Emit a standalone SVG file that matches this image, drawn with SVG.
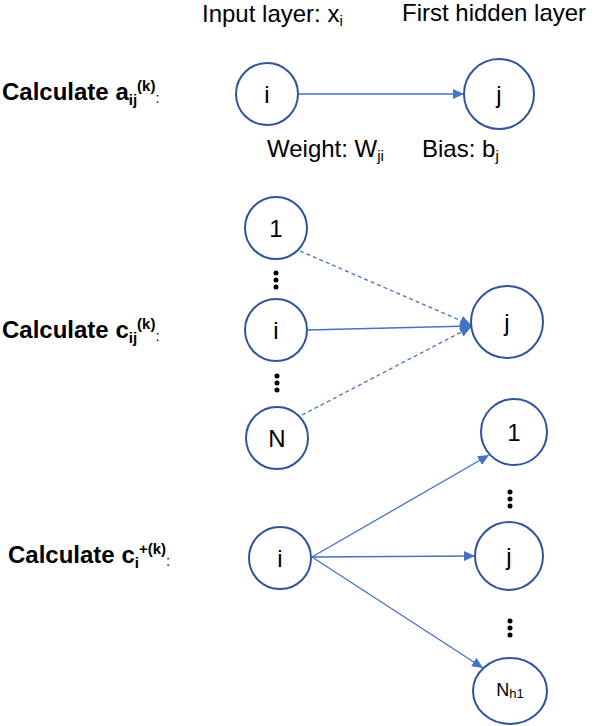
<svg xmlns="http://www.w3.org/2000/svg" width="595" height="726" viewBox="0 0 595 726">
<defs>
<marker id="ah" markerUnits="userSpaceOnUse" markerWidth="12" markerHeight="10" refX="11" refY="5" orient="auto">
<path d="M0,0 L11,5 L0,10 Z" fill="#4472C4"/>
</marker>
<style>
.t{font-family:"Liberation Sans",Arial,sans-serif;font-size:24px;fill:#000}
.b{font-family:"Liberation Sans",Arial,sans-serif;font-size:24px;font-weight:bold;fill:#000}
.s{font-size:15px}
.c{text-anchor:middle}
.n{fill:#fff;stroke:#2F5597;stroke-width:2}
.e{stroke:#4472C4;stroke-width:1.3;fill:none;marker-end:url(#ah)}
.d{stroke-dasharray:4,3}
.dot{fill:#000;stroke:none}
</style>
</defs>
<rect width="595" height="726" fill="#fff"/>
<g id="labels">
<text class="t" x="202" y="22">Input layer: x<tspan class="s" dy="4">i</tspan></text>
<text class="t" x="402" y="21">First hidden layer</text>
<text class="b" x="2" y="100">Calculate a<tspan class="s" dy="5">ij</tspan><tspan class="s" dy="-14">(k)</tspan><tspan class="s" dy="12" font-weight="normal">:</tspan></text>
<text class="t" x="267" y="157">Weight: W<tspan class="s" dy="4">ji</tspan></text>
<text class="t" x="422" y="157">Bias: b<tspan class="s" dy="4">j</tspan></text>
<text class="b" x="2" y="338">Calculate c<tspan class="s" dy="5">ij</tspan><tspan class="s" dy="-14">(k)</tspan><tspan class="s" dy="12" font-weight="normal">:</tspan></text>
<text class="b" x="8" y="563">Calculate c<tspan class="s" dy="5">i</tspan><tspan class="s" dy="-14">+(k)</tspan><tspan class="s" dy="12" font-weight="normal">:</tspan></text>
</g>
<g id="connectors">
<line class="e" x1="298" y1="94" x2="464" y2="94"/>
<line class="e" x1="307" y1="330" x2="471" y2="326"/>
<line class="e d" x1="300" y1="251" x2="471" y2="325"/>
<line class="e d" x1="302" y1="415" x2="471" y2="327"/>
<line class="e" x1="312" y1="557" x2="489" y2="455"/>
<line class="e" x1="312" y1="557" x2="475" y2="556"/>
<line class="e" x1="312" y1="557" x2="483" y2="668"/>
</g>
<g id="top-i"><circle class="n" cx="267" cy="94" r="31"/><text class="t c" x="267" y="103">i</text></g>
<g id="top-j"><circle class="n" cx="499" cy="94" r="35"/><text class="t c" x="499" y="103">j</text></g>
<g id="mid-1"><circle class="n" cx="276" cy="228" r="31"/><text class="t c" x="276" y="237">1</text></g>
<g id="mid-dots1"><circle class="dot" cx="276" cy="273" r="2.5"/><circle class="dot" cx="276" cy="280" r="2.5"/><circle class="dot" cx="276" cy="287" r="2.5"/></g>
<g id="mid-i"><circle class="n" cx="276" cy="330" r="31"/><text class="t c" x="276" y="339">i</text></g>
<g id="mid-dots2"><circle class="dot" cx="277" cy="376" r="2.5"/><circle class="dot" cx="277" cy="383" r="2.5"/><circle class="dot" cx="277" cy="390" r="2.5"/></g>
<g id="mid-N"><circle class="n" cx="277" cy="438" r="31"/><text class="t c" x="277" y="447">N</text></g>
<g id="mid-j"><circle class="n" cx="507" cy="322" r="36"/><text class="t c" x="507" y="331">j</text></g>
<g id="bot-1"><circle class="n" cx="514" cy="432" r="33"/><text class="t c" x="514" y="441">1</text></g>
<g id="bot-dots1"><circle class="dot" cx="510" cy="492" r="2.5"/><circle class="dot" cx="510" cy="499" r="2.5"/><circle class="dot" cx="510" cy="506" r="2.5"/></g>
<g id="bot-i"><circle class="n" cx="280" cy="558" r="31"/><text class="t c" x="280" y="567">i</text></g>
<g id="bot-j"><circle class="n" cx="509" cy="556" r="34"/><text class="t c" x="509" y="565">j</text></g>
<g id="bot-dots2"><circle class="dot" cx="510" cy="621" r="2.5"/><circle class="dot" cx="510" cy="628" r="2.5"/><circle class="dot" cx="510" cy="635" r="2.5"/></g>
<g id="bot-Nh1"><ellipse class="n" cx="510" cy="691" rx="37" ry="33"/><text class="t c" x="510" y="696" style="font-size:18px">N<tspan style="font-size:13px" dy="2">h1</tspan></text></g>
</svg>
